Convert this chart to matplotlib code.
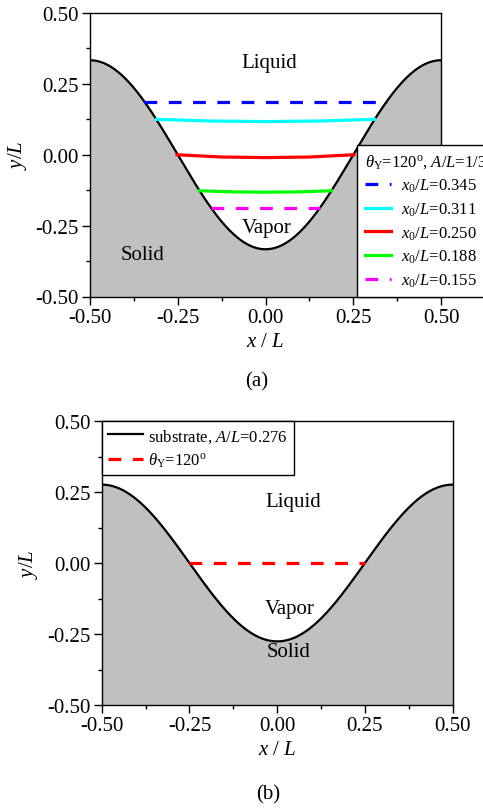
import numpy as np
import matplotlib
matplotlib.use("Agg")
import matplotlib.pyplot as plt

plt.rcParams['font.family'] = ['Liberation Serif', 'DejaVu Serif']
plt.rcParams['mathtext.fontset'] = 'custom'
plt.rcParams['mathtext.rm'] = 'Liberation Serif'
plt.rcParams['mathtext.it'] = 'Liberation Serif:italic'
plt.rcParams['mathtext.bf'] = 'Liberation Serif:bold'

# ---------------- data ----------------
amp_a = 1.0 / 3.0
amp_b = 0.276

line_labels_a = [r'$x_0/L$=0.345', r'$x_0/L$=0.311', r'$x_0/L$=0.250',
                 r'$x_0/L$=0.188', r'$x_0/L$=0.155']
line_colors_a = ['#0000ff', '#00ffff', '#ff0000', '#00ff00', '#ff00ff']
line_dashed_a = [True, False, False, False, True]

blue_x = [-0.345, 0.345]
blue_y = [0.187, 0.187]
cyan_x = [-0.311, -0.155, 0.0, 0.155, 0.311]
cyan_y = [0.125, 0.119, 0.117, 0.119, 0.125]
red_x = [-0.252, -0.125, 0.0, 0.125, 0.252]
red_y = [0.0, -0.008, -0.010, -0.008, 0.0]
green_x = [-0.188, -0.094, 0.0, 0.094, 0.188]
green_y = [-0.127, -0.131, -0.132, -0.131, -0.127]
magenta_x = [-0.155, 0.155]
magenta_y = [-0.187, -0.187]
lines_a = [(blue_x, blue_y), (cyan_x, cyan_y), (red_x, red_y),
           (green_x, green_y), (magenta_x, magenta_y)]

b_line_x = [-0.25, 0.25]
b_line_y = [0.0, 0.0]

ticks = [-0.50, -0.25, 0.00, 0.25, 0.50]
tick_labels = ['-0.50', '-0.25', '0.00', '0.25', '0.50']

# ---------------- figure ----------------
W, H = 483, 812
fig = plt.figure(figsize=(W / 100, H / 100), dpi=100)

def px_axes(l, t, r, b):
    return fig.add_axes([l / W, 1 - b / H, (r - l) / W, (b - t) / H])

ax_a = px_axes(90, 14, 441, 297.5)
ax_b = px_axes(101.7, 422, 452.7, 706)

xs = np.linspace(-0.5, 0.5, 400)

def style_axes(ax):
    ax.set_xlim(-0.5, 0.5)
    ax.set_ylim(-0.5, 0.5)
    ax.set_xticks(ticks)
    ax.set_xticklabels(tick_labels)
    ax.set_yticks(ticks)
    ax.set_yticklabels(tick_labels)
    ax.set_xticks([-0.375, -0.125, 0.125, 0.375], minor=True)
    ax.set_yticks([-0.375, -0.125, 0.125, 0.375], minor=True)
    ax.tick_params(which='major', direction='out', length=6, width=1,
                   labelsize=15, top=False, right=False, pad=2)
    ax.tick_params(which='minor', direction='out', length=3, width=1,
                   top=False, right=False)
    for s in ax.spines.values():
        s.set_linewidth(1.0)
    ax.set_xlabel(r'$x$ / $L$', fontsize=15)
    ax.set_ylabel(r'$y/L$', fontsize=15)
    ax.yaxis.set_label_coords(-0.175, 0.5)
    ax.xaxis.set_label_coords(0.5, -0.125)

def draw_substrate(ax, amp, label=None):
    ys = -amp * np.cos(2 * np.pi * xs)
    ax.fill_between(xs, ys, -0.5, color='#c0c0c0', lw=0, zorder=1)
    ax.plot(xs, ys, color='black', lw=1.6, zorder=3, label=label)

# ---- panel (a) ----
style_axes(ax_a)
draw_substrate(ax_a, amp_a)
handles = []
for (lx, ly), c, d, lab in zip(lines_a, line_colors_a, line_dashed_a, line_labels_a):
    if d:
        h, = ax_a.plot(lx, ly, color=c, lw=2.3, dashes=(4, 3.6), zorder=4, label=lab)
    else:
        h, = ax_a.plot(lx, ly, color=c, lw=2.3, zorder=4, label=lab)
    handles.append(h)
ax_a.text(0.01, 0.327, 'Liquid', fontsize=15, ha='center', va='center')
ax_a.text(0.003, -0.256, 'Vapor', fontsize=15, ha='center', va='center', zorder=5)
ax_a.text(-0.351, -0.352, 'Solid', fontsize=15, ha='center', va='center', zorder=5)
leg_a = ax_a.legend(handles=handles, loc='lower left',
                    bbox_to_anchor=(0.761, 0.0), borderaxespad=0,
                    title=r'$\theta_{\rm Y}$=120$^{\rm o}$, $A/L$=1/3',
                    fontsize=12, title_fontsize=12, frameon=True, fancybox=False,
                    edgecolor='black', framealpha=1, handlelength=1.6,
                    handletextpad=0.6, labelspacing=0.38, borderpad=0.45,
                    alignment='left')
leg_a.get_frame().set_linewidth(1.0)
leg_a.set_zorder(10)

# ---- panel (b) ----
style_axes(ax_b)
draw_substrate(ax_b, amp_b, label=r'substrate, $A/L$=0.276')
ax_b.plot(b_line_x, b_line_y, color='#ff0000', lw=2.3, dashes=(4, 3.6), zorder=4,
          label=r'$\theta_{\rm Y}$=120$^{\rm o}$')
ax_b.text(0.046, 0.216, 'Liquid', fontsize=15, ha='center', va='center')
ax_b.text(0.037, -0.16, 'Vapor', fontsize=15, ha='center', va='center', zorder=5)
ax_b.text(0.033, -0.31, 'Solid', fontsize=15, ha='center', va='center', zorder=5)
leg_b = ax_b.legend(loc='upper left', bbox_to_anchor=(0.0, 1.0), borderaxespad=0,
                    fontsize=12, frameon=True, fancybox=False, edgecolor='black',
                    framealpha=1, handlelength=2.1, handletextpad=0.35,
                    labelspacing=0.35, borderpad=0.35)
leg_b.get_frame().set_linewidth(1.0)

fig.text(257 / W, 1 - 382 / H, '(a)', fontsize=15, ha='center', va='center')
fig.text(268 / W, 1 - 795 / H, '(b)', fontsize=15, ha='center', va='center')

fig.savefig('out.png', dpi=100)
